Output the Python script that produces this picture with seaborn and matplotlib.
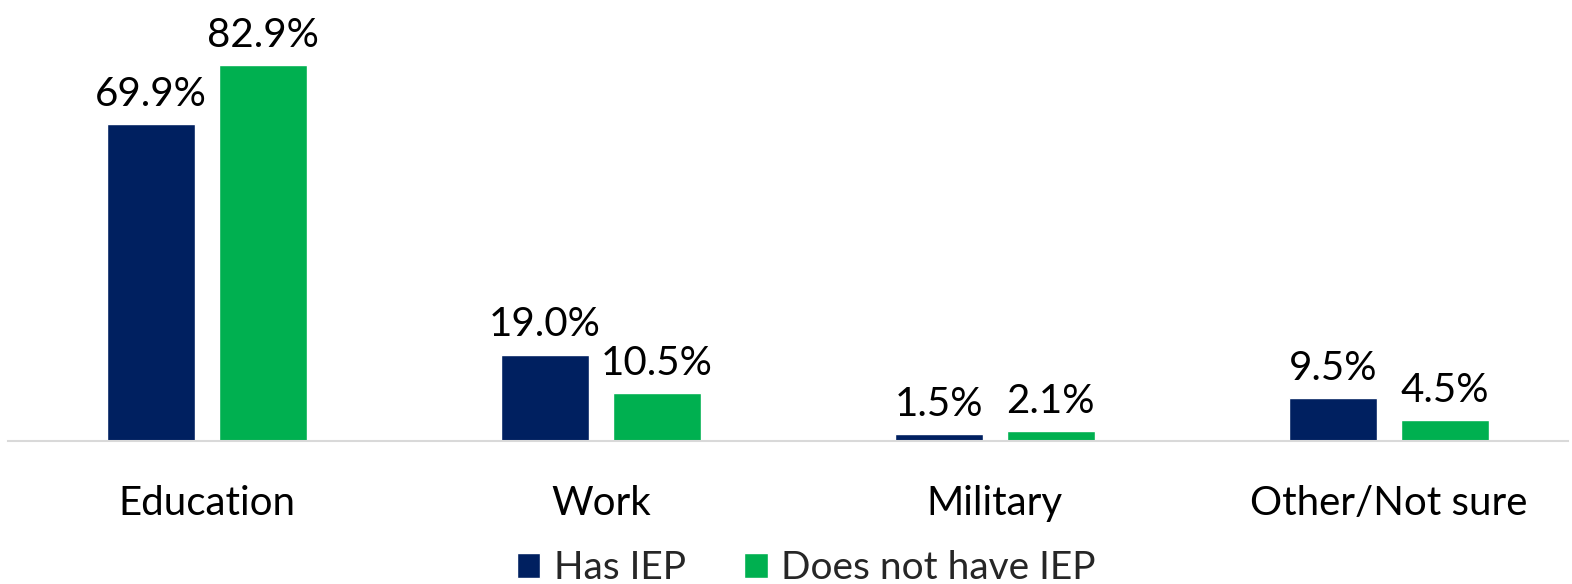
import matplotlib
matplotlib.use("Agg")
import matplotlib.pyplot as plt
import seaborn as sns
import pandas as pd

categories = ["Education", "Work", "Military", "Other/Not sure"]
series_names = ["Has IEP", "Does not have IEP"]
has_iep = [69.9, 19.0, 1.5, 9.5]
no_iep = [82.9, 10.5, 2.1, 4.5]
colors = ["#002060", "#00B050"]

df = pd.DataFrame({
    "category": categories * 2,
    "group": [series_names[0]] * 4 + [series_names[1]] * 4,
    "value": has_iep + no_iep,
})

sns.set_style("white")
plt.rcParams["font.family"] = ["Lato", "DejaVu Sans"]

fig = plt.figure(figsize=(15.72, 5.84), dpi=100)
ax = fig.add_axes([8 / 1572, (584 - 440.7) / 584, 1560 / 1572, 440.7 / 584])

sns.barplot(data=df, x="category", y="value", hue="group", palette=colors,
            saturation=1, ax=ax, width=0.568, gap=0.215, legend=True)

for cont in ax.containers:
    ax.bar_label(cont, labels=[f"{v:.1f}%" for v in cont.datavalues],
                 padding=8, fontsize=29, color="#000000")

ax.set_ylim(0, 97.2)
ax.set_xlim(-0.505, 3.455)
ax.set_xlabel("")
ax.set_ylabel("")
ax.set_yticks([])
ax.tick_params(axis="x", length=0, pad=32, labelsize=29, labelcolor="#000000")
for s in ["top", "right", "left"]:
    ax.spines[s].set_visible(False)
ax.spines["bottom"].set_color("#D9D9D9")
ax.spines["bottom"].set_linewidth(1.5)

handles, labels = ax.get_legend_handles_labels()
ax.legend_.remove()
fig.legend(handles, labels, loc="lower center", bbox_to_anchor=(0.513, -0.064),
           ncol=2, frameon=False, fontsize=28, handlelength=0.6, handleheight=0.6,
           handletextpad=0.35, columnspacing=1.5)

fig.savefig("out.png", dpi=100)
